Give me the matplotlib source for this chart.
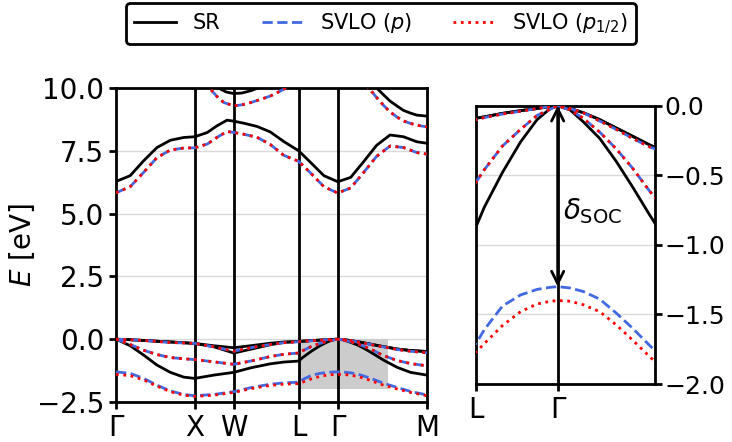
import matplotlib
matplotlib.use("Agg")
import matplotlib.pyplot as plt
from matplotlib.patches import Rectangle

# high-symmetry path
kpath_labels = ["Γ", "X", "W", "L", "Γ", "M"]
kpath_pos = [0.0, 1.0, 1.495, 2.32, 2.815, 3.95]
k_L, k_G = 2.32, 2.815
inset_kmax = 3.405
box_kmax = 3.45

# valence bands (eV)
k_vb = [0.0, 0.18, 0.35, 0.52, 0.69, 0.86, 1.0, 1.24, 1.495, 1.71, 1.96, 2.13, 2.32,
        2.37, 2.48, 2.59, 2.69, 2.77, 2.815, 2.89, 2.97, 3.07, 3.17, 3.27, 3.37, 3.405,
        3.57, 3.74, 3.95]
sr_vb_a = [0, -0.02, -0.05, -0.08, -0.11, -0.14, -0.17, -0.26, -0.34, -0.26, -0.16, -0.11, -0.09,
           -0.08, -0.055, -0.035, -0.02, -0.005, 0, -0.019, -0.05, -0.10, -0.16, -0.22, -0.28, -0.30,
           -0.39, -0.45, -0.49]
sr_vb_b = [0, -0.02, -0.05, -0.08, -0.11, -0.14, -0.17, -0.30, -0.55, -0.40, -0.22, -0.13, -0.09,
           -0.08, -0.055, -0.035, -0.02, -0.005, 0, -0.019, -0.05, -0.10, -0.16, -0.22, -0.28, -0.30,
           -0.39, -0.45, -0.49]
sr_vb_c = [0, -0.26, -0.63, -1.03, -1.32, -1.51, -1.56, -1.43, -1.32, -1.14, -0.98, -0.91, -0.87,
           -0.73, -0.48, -0.26, -0.10, -0.02, 0, -0.03, -0.115, -0.235, -0.40, -0.585, -0.78, -0.845,
           -1.12, -1.32, -1.43]
svlo_vb_1 = [0, -0.02, -0.05, -0.09, -0.13, -0.15, -0.17, -0.30, -0.48, -0.34, -0.21, -0.14, -0.10,
             -0.085, -0.06, -0.04, -0.02, -0.005, 0, -0.02, -0.05, -0.11, -0.17, -0.235, -0.295, -0.31,
             -0.41, -0.48, -0.54]
svlo_vb_2 = [0, -0.21, -0.44, -0.61, -0.73, -0.78, -0.81, -0.90, -1.00, -0.87, -0.69, -0.60, -0.55,
             -0.46, -0.29, -0.17, -0.07, -0.025, 0, -0.03, -0.09, -0.19, -0.31, -0.45, -0.61, -0.66,
             -0.85, -0.97, -1.06]
so_p = [-1.30, -1.36, -1.56, -1.83, -2.06, -2.20, -2.25, -2.20, -2.09, -1.93, -1.79, -1.74, -1.71,
        -1.61, -1.44, -1.36, -1.32, -1.305, -1.30, -1.31, -1.335, -1.39, -1.49, -1.60, -1.72, -1.76,
        -1.92, -2.08, -2.22]
so_p12 = [-1.40, -1.45, -1.62, -1.87, -2.09, -2.23, -2.28, -2.23, -2.12, -1.97, -1.84, -1.79, -1.77,
          -1.71, -1.58, -1.48, -1.425, -1.405, -1.40, -1.405, -1.43, -1.48, -1.575, -1.685, -1.80, -1.84,
          -1.98, -2.12, -2.25]

# conduction bands (eV)
k_cb = [0.0, 0.18, 0.35, 0.52, 0.69, 0.86, 1.0, 1.16, 1.28, 1.41, 1.495, 1.62, 1.79, 1.96, 2.13,
        2.32, 2.47, 2.64, 2.815, 2.98, 3.14, 3.31, 3.48, 3.65, 3.82, 3.95]
sr_cb1 = [6.28, 6.51, 7.10, 7.63, 7.92, 8.03, 8.06, 8.23, 8.49, 8.72, 8.68, 8.60, 8.47, 8.25, 7.87,
          7.50, 7.04, 6.51, 6.27, 6.44, 7.05, 7.72, 8.13, 8.06, 7.86, 7.80]
svlo_cb1 = [5.83, 6.07, 6.64, 7.23, 7.53, 7.61, 7.62, 7.77, 8.03, 8.27, 8.23, 8.16, 8.04, 7.75, 7.32,
            7.08, 6.62, 6.07, 5.82, 6.02, 6.62, 7.28, 7.69, 7.63, 7.43, 7.37]

# upper conduction band pieces that enter the window
sr_cb2_w_k = [1.22, 1.30, 1.40, 1.495, 1.60, 1.72, 1.82, 1.90]
sr_cb2_w = [10.3, 10.0, 9.84, 9.78, 9.80, 9.90, 10.02, 10.2]
svlo_cb2_w_k = [1.10, 1.20, 1.30, 1.37, 1.495, 1.60, 1.71, 1.84, 1.96, 2.05, 2.13, 2.22]
svlo_cb2_w = [10.4, 9.95, 9.60, 9.42, 9.29, 9.33, 9.42, 9.55, 9.68, 9.82, 9.95, 10.15]
sr_cb2_m_k = [3.22, 3.31, 3.40, 3.48, 3.57, 3.65, 3.74, 3.82, 3.95]
sr_cb2_m = [10.3, 10.0, 9.72, 9.48, 9.28, 9.11, 9.00, 8.92, 8.88]
svlo_cb2_m_k = [3.14, 3.21, 3.31, 3.40, 3.48, 3.57, 3.65, 3.74, 3.82, 3.95]
svlo_cb2_m = [10.35, 10.0, 9.62, 9.30, 9.05, 8.84, 8.69, 8.59, 8.52, 8.45]

delta_soc_bottom = so_p[k_vb.index(k_G)]

plt.rcParams["font.family"] = "DejaVu Sans"
plt.rcParams["mathtext.fontset"] = "dejavusans"

SR_STYLE = dict(color="black", lw=2, linestyle="-", zorder=3)
P_STYLE = dict(color="royalblue", lw=2, linestyle="--", zorder=4)
P12_STYLE = dict(color="red", lw=2, linestyle=":", zorder=5)


def draw_bands(axis):
    handles = []
    for band in [sr_vb_a, sr_vb_b, sr_vb_c]:
        h, = axis.plot(k_vb, band, **SR_STYLE)
    axis.plot(k_cb, sr_cb1, **SR_STYLE)
    axis.plot(sr_cb2_w_k, sr_cb2_w, **SR_STYLE)
    axis.plot(sr_cb2_m_k, sr_cb2_m, **SR_STYLE)
    handles.append(h)

    for style, so_band in [(P_STYLE, so_p), (P12_STYLE, so_p12)]:
        for band in [svlo_vb_1, svlo_vb_2, so_band]:
            h, = axis.plot(k_vb, band, **style)
        axis.plot(k_cb, svlo_cb1, **style)
        axis.plot(svlo_cb2_w_k, svlo_cb2_w, **style)
        axis.plot(svlo_cb2_m_k, svlo_cb2_m, **style)
        handles.append(h)
    return handles


def style_axis(axis, size):
    for spine in axis.spines.values():
        spine.set_linewidth(2)
    axis.tick_params(labelsize=size, width=2, length=5)
    axis.grid(axis="y", color="0.85", lw=1)
    axis.set_axisbelow(True)


fig = plt.figure(figsize=(7.32, 4.42), dpi=100)
ax = fig.add_axes([0.1585, 0.0905, 0.4249, 0.7104])
ins = fig.add_axes([0.6503, 0.1312, 0.2445, 0.6296])

# main panel
handles = draw_bands(ax)
for k in kpath_pos[1:-1]:
    ax.axvline(k, color="black", lw=2, zorder=2)
ax.add_patch(Rectangle((k_L, -2.0), box_kmax - k_L, 2.0, facecolor="0.8",
                       edgecolor="none", zorder=1))
ax.set_xlim(kpath_pos[0], kpath_pos[-1])
ax.set_ylim(-2.5, 10.0)
ax.set_yticks([-2.5, 0.0, 2.5, 5.0, 7.5, 10.0])
ax.set_xticks(kpath_pos)
ax.set_xticklabels(kpath_labels)
ax.set_ylabel("$E$ [eV]", fontsize=20, labelpad=0)
style_axis(ax, 20)

# zoom around the valence band maximum
draw_bands(ins)
ins.axvline(k_G, color="black", lw=2, zorder=2)
ins.set_xlim(k_L, inset_kmax)
ins.set_ylim(-2.0, 0.0)
ins.set_yticks([-2.0, -1.5, -1.0, -0.5, 0.0])
ins.set_xticks([k_L, k_G])
ins.set_xticklabels(["L", "Γ"])
ins.yaxis.tick_right()
style_axis(ins, 18)
ins.tick_params(axis="x", labelsize=20)
ins.tick_params(axis="y", pad=2)
ins.annotate("", xy=(k_G, delta_soc_bottom), xytext=(k_G, 0.0),
             arrowprops=dict(arrowstyle="<->", lw=2, color="black",
                             mutation_scale=22, shrinkA=0, shrinkB=0), zorder=6)
ins.text(k_G + 0.03, -0.76, r"$\delta_{\mathrm{SOC}}$", fontsize=20,
         ha="left", va="center")

leg = fig.legend(handles, ["SR", "SVLO ($p$)", "SVLO ($p_{1/2}$)"],
                 loc="center", bbox_to_anchor=(0.52, 0.947), ncol=3, fontsize=15,
                 handlelength=2.0, frameon=True, fancybox=True, edgecolor="black",
                 framealpha=1)
leg.get_frame().set_linewidth(2)

fig.savefig("out.png", dpi=100)
